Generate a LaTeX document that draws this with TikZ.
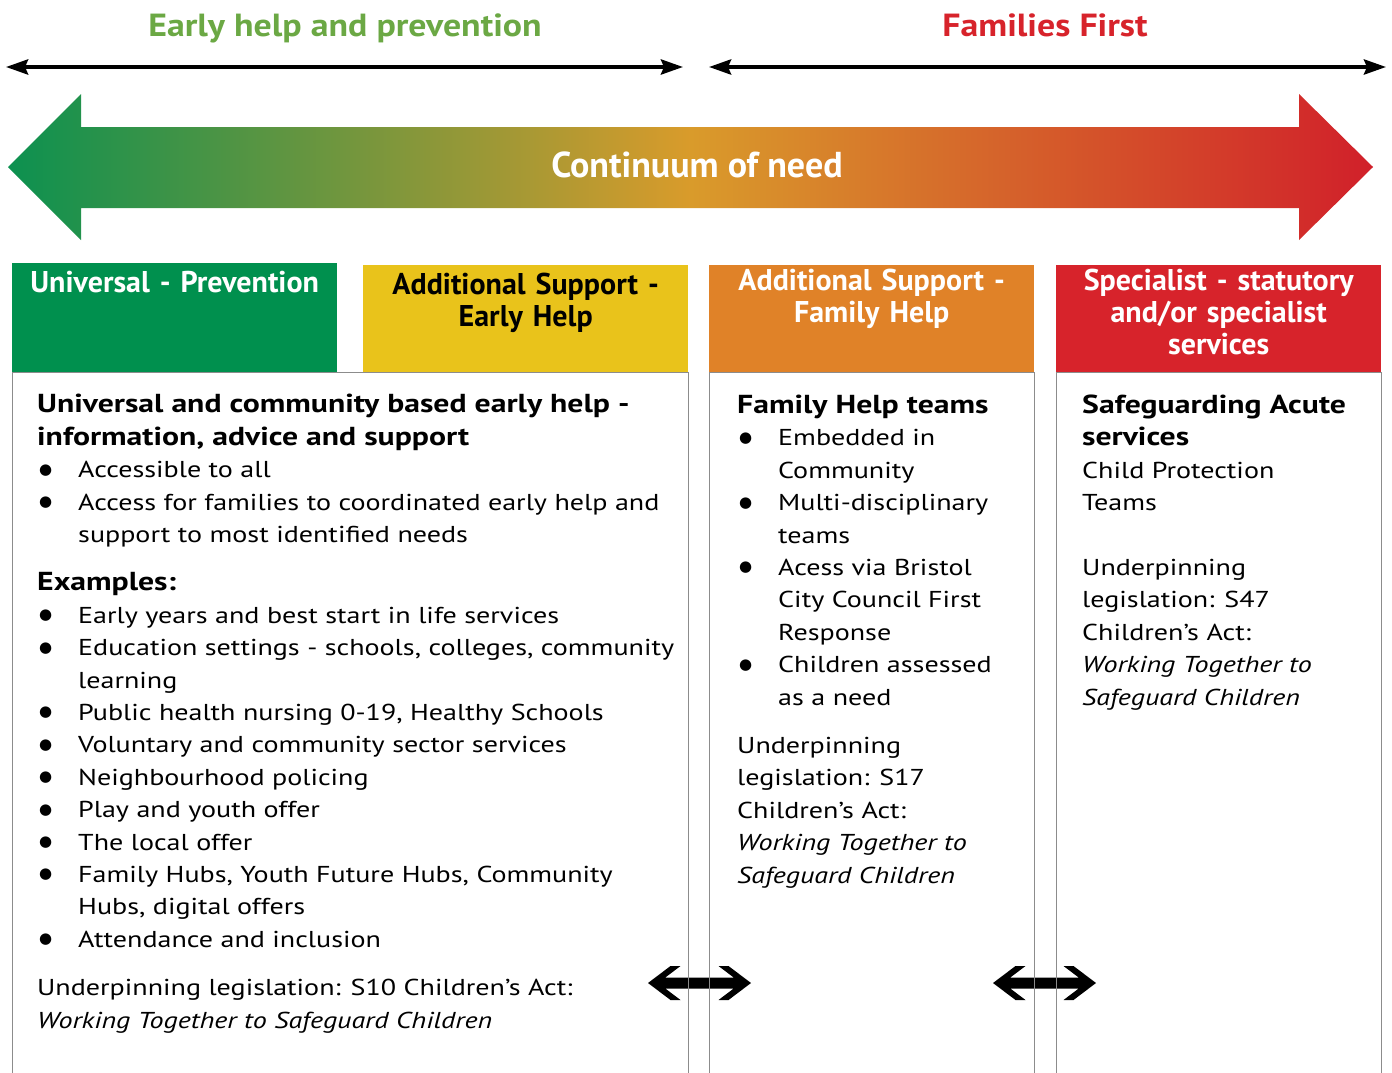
\documentclass[tikz,border=0pt]{standalone}
\usepackage{fontspec}
\setmainfont[FakeStretch=1.22]{PT Sans}
\newfontfamily\headfont{PT Sans}
\newfontfamily\titlefont[FakeStretch=1.12]{PT Sans}
\newfontfamily\symfont{DejaVu Sans}
\usetikzlibrary{arrows.meta, positioning}

\definecolor{ehgreen}{HTML}{6BA844}
\definecolor{ffred}{HTML}{D7232B}
\definecolor{hdgreen}{HTML}{00904E}
\definecolor{hdyellow}{HTML}{E9C31B}
\definecolor{hdorange}{HTML}{E08228}
\definecolor{hdred}{HTML}{D7232B}
\definecolor{needgreen}{HTML}{0C9150}
\definecolor{needgold}{HTML}{D99B2B}
\definecolor{needred}{HTML}{D1202A}
\definecolor{panelgray}{HTML}{8C8C8C}

\newcommand{\itembul}{\makebox[41pt][l]{\hspace{2pt}\raisebox{3.5pt}{\symfont\fontsize{15}{16}\selectfont ●}}}
\newcommand{\itemcont}{\hspace*{41pt}}
\newcommand{\panelhead}{\bfseries\fontsize{26}{32.4}\selectfont}

\begin{document}
\begin{tikzpicture}[
        x=1pt, y=-1pt,
        title/.style={anchor=base, font=\titlefont\bfseries\fontsize{32}{32}\selectfont},
        span/.style={line width=4pt, {Stealth[length=22pt, width=15pt, inset=3pt]}-{Stealth[length=22pt, width=15pt, inset=3pt]}},
        header/.style={rectangle, inner sep=0pt, anchor=north west, text width=325pt, align=center,
                       font=\headfont\bfseries\fontsize{30}{32}\selectfont},
        bodytext/.style={anchor=base west, inner sep=0pt, align=left, font=\fontsize{23}{32.4}\selectfont},
        panel/.style={draw=panelgray, line width=1pt},
        twoway/.pic={
            \fill[black] (-51.5,0) -- (-29,-17) -- (-19,-17) -- (-34.2,-5.5) -- (34.2,-5.5)
                -- (19,-17) -- (29,-17) -- (51.5,0) -- (29,17) -- (19,17) -- (34.2,5.5)
                -- (-34.2,5.5) -- (-19,17) -- (-29,17) -- cycle;
        }
    ]
        \useasboundingbox (0,0) rectangle (1392,1073);

        % the two spans on top
        \node[title, text=ehgreen] (ehtitle) at (345,37) {Early help and prevention};
        \node[title, text=ffred] (fftitle) at (1045,37) {Families First};
        \coordinate (ehleft) at (6,67);
        \coordinate (ehright) at (683,67);
        \coordinate (ffleft) at (709,67);
        \coordinate (ffright) at (1386,67);
        \draw[span] (ehleft) -- (ehright);
        \draw[span] (ffleft) -- (ffright);

        % continuum arrow
        \shade[left color=needgreen, right color=needred, middle color=needgold]
            (8,167) -- (81,94) -- (81,127) -- (1299,127) -- (1299,94) -- (1373,167)
            -- (1299,240) -- (1299,208) -- (81,208) -- (81,240) -- cycle;
        \node[anchor=base, text=white, font=\headfont\bfseries\fontsize{36}{36}\selectfont] (need) at (697,177) {Continuum of need};

        % headers
        \node[header, fill=hdgreen, text=white, text height=29pt, text depth=80pt] (universal) at (12,263) {Universal - Prevention};
        \node[header, fill=hdyellow, text=black, text height=29pt, text depth=78pt] (earlyhelp) at (363,265) {Additional Support -\\Early Help};
        \node[header, fill=hdorange, text=white, text height=25pt, text depth=82pt] (familyhelp) at (709,265) {Additional Support -\\Family Help};
        \node[header, fill=hdred, text=white, text height=25pt, text depth=82pt] (specialist) at (1056,265) {Specialist - statutory\\and/or specialist\\services};

        % links between panels
        \pic at (699.5,983) {twoway};
        \pic at (1044.5,983) {twoway};

        % panels
        \draw[panel] (universal.south west) rectangle (688,1090);
        \draw[panel] (familyhelp.south west) rectangle (1034,1090);
        \draw[panel] (specialist.south west) rectangle (1381,1090);

        % body texts, placed by their last line
        \node[bodytext] (earlybody) at (37,1028) {%
            {\panelhead Universal and community based early help -}\\
            {\panelhead information, advice and support}\\
            \itembul Accessible to all\\
            \itembul Access for families to coordinated early help and\\
            \itemcont support to most identified needs\\[16pt]
            {\panelhead Examples:}\\
            \itembul Early years and best start in life services\\
            \itembul Education settings - schools, colleges, community\\
            \itemcont learning\\
            \itembul Public health nursing 0-19, Healthy Schools\\
            \itembul Voluntary and community sector services\\
            \itembul Neighbourhood policing\\
            \itembul Play and youth offer\\
            \itembul The local offer\\
            \itembul Family Hubs, Youth Future Hubs, Community\\
            \itemcont Hubs, digital offers\\
            \itembul Attendance and inclusion\\[16pt]
            Underpinning legislation: S10 Children’s Act:\\
            \textit{Working Together to Safeguard Children}};

        \node[bodytext] (familybody) at (737,883) {%
            {\panelhead Family Help teams}\\
            \itembul Embedded in\\
            \itemcont Community\\
            \itembul Multi-disciplinary\\
            \itemcont teams\\
            \itembul Acess via Bristol\\
            \itemcont City Council First\\
            \itemcont Response\\
            \itembul Children assessed\\
            \itemcont as a need\\[16pt]
            Underpinning\\
            legislation: S17\\
            Children's Act:\\
            \textit{Working Together to}\\
            \textit{Safeguard Children}};

        \node[bodytext] (specialistbody) at (1082,705) {%
            {\panelhead Safeguarding Acute}\\
            {\panelhead services}\\
            Child Protection\\
            Teams\\
            \mbox{}\\
            Underpinning\\
            legislation: S47\\
            Children's Act:\\
            \textit{Working Together to}\\
            \textit{Safeguard Children}};
\end{tikzpicture}
\end{document}
